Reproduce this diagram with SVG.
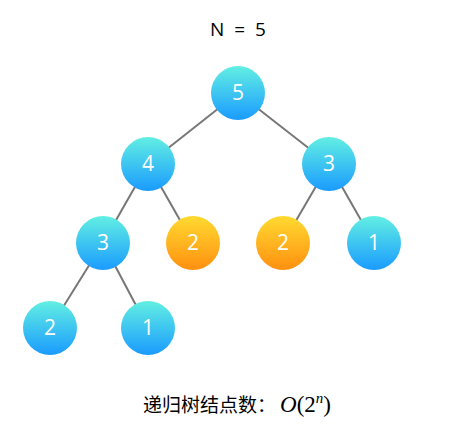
<svg xmlns="http://www.w3.org/2000/svg" width="456" height="433" viewBox="0 0 456 433">
<defs>
<linearGradient id="gb" x1="0" y1="0" x2="0" y2="1">
<stop offset="0" stop-color="#62efe2"/>
<stop offset="1" stop-color="#1a9bff"/>
</linearGradient>
<linearGradient id="go" x1="0" y1="0" x2="0" y2="1">
<stop offset="0" stop-color="#ffda30"/>
<stop offset="1" stop-color="#ff9010"/>
</linearGradient>
<style>
.b{fill:url(#gb)}
.o{fill:url(#go)}
.t{fill:#fff;font-family:"Open Sans","DejaVu Sans",sans-serif;font-size:21px;text-anchor:middle}
.e{stroke:#777;stroke-width:2;fill:none}
.m{font-family:"Liberation Serif",serif;font-size:23px}
.sup{font-family:"Liberation Serif",serif;font-size:15px;font-style:italic}
</style>
</defs>
<rect width="456" height="433" fill="#fff"/>
<text x="238" y="36" font-family="'Open Sans',sans-serif" font-size="19" text-anchor="middle" fill="#000" xml:space="preserve">N  =  5</text>
<g id="edges">
<line class="e" x1="238" y1="93" x2="148" y2="164"/>
<line class="e" x1="238" y1="93" x2="329" y2="164"/>
<line class="e" x1="148" y1="164" x2="103" y2="243"/>
<line class="e" x1="148" y1="164" x2="193" y2="243"/>
<line class="e" x1="329" y1="164" x2="283" y2="243"/>
<line class="e" x1="329" y1="164" x2="374" y2="243"/>
<line class="e" x1="103" y1="243" x2="50" y2="328"/>
<line class="e" x1="103" y1="243" x2="148" y2="328"/>
</g>
<g id="n5"><circle class="b" cx="238" cy="93" r="27"/><text class="t" x="238" y="100">5</text></g>
<g id="n4"><circle class="b" cx="148" cy="164" r="27"/><text class="t" x="148" y="171">4</text></g>
<g id="n3r"><circle class="b" cx="329" cy="164" r="27"/><text class="t" x="329" y="171">3</text></g>
<g id="n3l"><circle class="b" cx="103" cy="243" r="27"/><text class="t" x="103" y="250">3</text></g>
<g id="n2a"><circle class="o" cx="193" cy="243" r="27"/><text class="t" x="193" y="250">2</text></g>
<g id="n2b"><circle class="o" cx="283" cy="243" r="27"/><text class="t" x="283" y="250">2</text></g>
<g id="n1r"><circle class="b" cx="374" cy="243" r="27"/><text class="t" x="374" y="250">1</text></g>
<g id="n2c"><circle class="b" cx="50" cy="328" r="27"/><text class="t" x="50" y="335">2</text></g>
<g id="n1c"><circle class="b" cx="148" cy="328" r="27"/><text class="t" x="148" y="335">1</text></g>
<text x="143" y="412" font-size="19" fill="#000"><tspan font-family="'Noto Sans CJK SC',sans-serif">递归树结点数：</tspan><tspan class="m" font-style="italic" x="280">O</tspan><tspan class="m">(2</tspan><tspan class="sup" dy="-9">n</tspan><tspan class="m" dy="9">)</tspan></text>
</svg>
